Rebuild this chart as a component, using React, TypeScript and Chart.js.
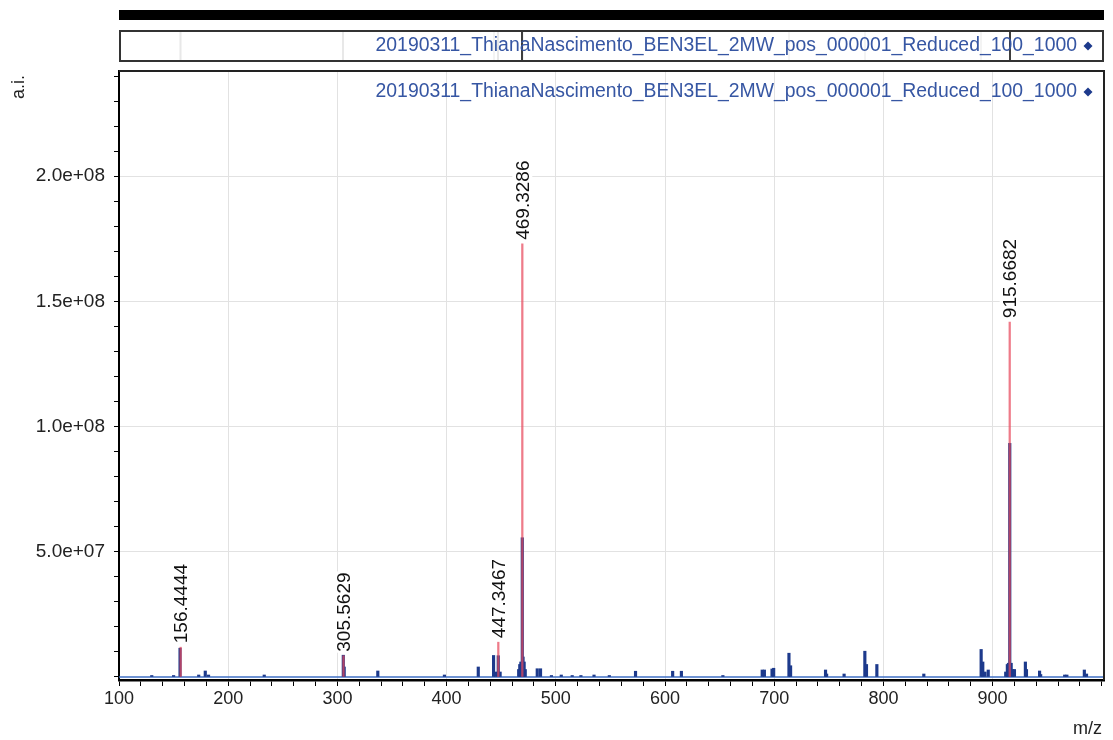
import React, { useEffect, useRef } from "react";
import { Chart, registerables } from "chart.js";

Chart.register(...registerables);

// ---------- data ----------
const seriesName = "20190311_ThianaNascimento_BEN3EL_2MW_pos_000001_Reduced_100_1000";

// profile spectrum (blue sticks): m/z and intensity
const profileMz = [
  130, 150, 155.9, 173, 179, 182, 233, 305.4, 306.2, 337, 398, 429, 443, 445, 447.3, 449,
  466, 467, 468, 469.3, 470, 471, 472, 483, 486, 496, 505, 515, 523, 535, 549, 573, 607, 615,
  653, 689, 691, 698, 699.5, 713.5, 715, 747, 748, 764, 783, 784.5, 794, 837, 889.5, 891,
  893, 896, 912, 913.5, 914.5, 915.7, 917, 918.5, 920, 930, 931, 943, 944, 966, 968, 984, 986,
];
const profileInt = [
  0.6e6, 0.6e6, 1.15e7, 0.8e6, 2.4e6, 0.8e6, 0.8e6, 8.7e6, 4e6, 2.4e6, 0.8e6, 4e6, 8.6e6, 2e6, 8.5e6, 2e6,
  3e6, 5e6, 6e6, 5.56e7, 8e6, 6e6, 3e6, 3.3e6, 3.3e6, 0.6e6, 0.8e6, 0.6e6, 0.6e6, 0.8e6, 0.6e6, 2.3e6, 2.3e6, 2.3e6,
  0.6e6, 2.8e6, 2.8e6, 3.2e6, 3.5e6, 9.5e6, 4.5e6, 2.8e6, 1.2e6, 1.2e6, 1.03e7, 5e6, 5e6, 1.2e6, 1.1e7, 6e6,
  2e6, 2.8e6, 2e6, 5e6, 5.5e6, 9.33e7, 5.5e6, 3e6, 3e6, 6e6, 3e6, 2.4e6, 1e6, 0.8e6, 0.8e6, 2.8e6, 1.2e6,
];

// centroid peaks (red lines) with labels
const peakMz = [156.4444, 305.5629, 447.3467, 469.3286, 915.6682];
const peakInt = [1.19e7, 8.5e6, 1.39e7, 1.73e8, 1.417e8];
const peakLabels = ["156.4444", "305.5629", "447.3467", "469.3286", "915.6682"];

// axes
const xMin = 100;
const xMax = 1002;
const xMinorStep = 20;
const xMajorTicks = [100, 200, 300, 400, 500, 600, 700, 800, 900];
const yMin = -1.2e6;
const yMax = 2.42e8;
const yMinorStep = 1e7;
const yMajorTicks = [5e7, 1e8, 1.5e8, 2e8];
const yTickLabels = ["5.0e+07", "1.0e+08", "1.5e+08", "2.0e+08"];

const FONT = "'Liberation Sans', Arial, sans-serif";
const BLUE_TEXT = "#3656a3";
const NAVY = "#1d3a8c";

const decorPlugin = {
  id: "decor",
  beforeDraw(chart: any) {
    const { ctx, chartArea } = chart;
    const x = chart.scales.x;
    ctx.save();
    ctx.fillStyle = "#fff";
    ctx.fillRect(0, 0, chart.width, chart.height);
    // black bar
    ctx.fillStyle = "#000";
    ctx.fillRect(chartArea.left, 10, chartArea.right - chartArea.left, 10);
    // overview box
    const bTop = 31, bH = 30;
    ctx.strokeStyle = "#333";
    ctx.lineWidth = 2;
    ctx.strokeRect(chartArea.left + 1, bTop, chartArea.right - chartArea.left - 2, bH);
    // overview lines
    const all = profileMz.map((m, i) => [m, profileInt[i]]).concat(peakMz.map((m, i) => [m, peakInt[i]]));
    all.forEach(([m, v]) => {
      if (v < 8e6) return;
      const a = Math.min(1, v / 8e7);
      const px = Math.round(x.getPixelForValue(m));
      ctx.strokeStyle = a > 0.5 ? "rgba(60,60,60,0.9)" : "rgba(120,120,120,0.12)";
      ctx.lineWidth = a > 0.5 ? 2 : 1.5;
      ctx.beginPath();
      ctx.moveTo(px, bTop + 1);
      ctx.lineTo(px, bTop + bH - 1);
      ctx.stroke();
    });
    ctx.restore();
  },
  afterDraw(chart: any) {
    const { ctx, chartArea } = chart;
    ctx.save();
    // frame top/right
    ctx.strokeStyle = "#222";
    ctx.lineWidth = 2;
    ctx.beginPath();
    ctx.moveTo(chartArea.left, chartArea.top);
    ctx.lineTo(chartArea.right, chartArea.top);
    ctx.lineTo(chartArea.right, chartArea.bottom);
    ctx.stroke();
    // legend texts
    const drawLegend = (cy: number) => {
      ctx.font = `19.4px ${FONT}`;
      ctx.fillStyle = BLUE_TEXT;
      ctx.textAlign = "right";
      ctx.textBaseline = "middle";
      ctx.fillText(seriesName, 1077, cy);
      const dx = 1088;
      ctx.fillStyle = NAVY;
      ctx.beginPath();
      ctx.moveTo(dx, cy - 4.5);
      ctx.lineTo(dx + 4.5, cy);
      ctx.lineTo(dx, cy + 4.5);
      ctx.lineTo(dx - 4.5, cy);
      ctx.closePath();
      ctx.fill();
    };
    drawLegend(46);
    drawLegend(92);
    // axis titles
    ctx.fillStyle = "#222";
    ctx.font = `18px ${FONT}`;
    ctx.save();
    ctx.translate(19, 87);
    ctx.rotate(-Math.PI / 2);
    ctx.textAlign = "center";
    ctx.textBaseline = "middle";
    ctx.fillText("a.i.", 0, 0);
    ctx.restore();
    ctx.textAlign = "right";
    ctx.textBaseline = "middle";
    ctx.fillText("m/z", 1102, 729);
    ctx.restore();
  },
  afterDatasetsDraw(chart: any) {
    const { ctx } = chart;
    const x = chart.scales.x;
    const y = chart.scales.y;
    ctx.save();
    ctx.font = `19px ${FONT}`;
    peakMz.forEach((m, i) => {
      const px = x.getPixelForValue(m);
      const py = y.getPixelForValue(peakInt[i]);
      const label = peakLabels[i];
      const w = ctx.measureText(label).width;
      ctx.save();
      ctx.translate(px, py - 4);
      ctx.rotate(-Math.PI / 2);
      ctx.fillStyle = "#fff";
      ctx.fillRect(-1, -10, w + 2, 20);
      ctx.fillStyle = "#111";
      ctx.textAlign = "left";
      ctx.textBaseline = "middle";
      ctx.fillText(label, 0, 1);
      ctx.restore();
    });
    ctx.restore();
  },
};

export default function App() {
  const ref = useRef<HTMLCanvasElement | null>(null);
  useEffect(() => {
    document.body.style.margin = "0";
    const canvas = ref.current!;
    const chart = new Chart(canvas, {
      type: "bar",
      data: {
        datasets: [
          {
            type: "bar",
            label: "centroid",
            data: peakMz.map((m, i) => ({ x: m, y: peakInt[i] })),
            backgroundColor: "rgba(232,72,92,0.72)",
            barThickness: 1.6,
            grouped: false,
            order: 0,
          } as any,
          {
            type: "bar",
            label: "profile",
            data: profileMz.map((m, i) => ({ x: m, y: profileInt[i] })),
            backgroundColor: NAVY,
            barThickness: 2.5,
            grouped: false,
            order: 1,
          } as any,
          {
            type: "line",
            label: "baseline",
            data: [
              { x: xMin, y: 0 },
              { x: xMax, y: 0 },
            ],
            borderColor: "#3f6fc4",
            borderWidth: 1.5,
            pointRadius: 0,
            order: 2,
          } as any,
        ],
      },
      options: {
        animation: false,
        responsive: false,
        maintainAspectRatio: false,
        layout: { padding: { left: 0, top: 71, right: 9, bottom: 0 } },
        plugins: { legend: { display: false }, tooltip: { enabled: false } },
        scales: {
          x: {
            type: "linear",
            min: xMin,
            max: xMax,
            offset: false,
            afterBuildTicks(scale: any) {
              const t = [];
              for (let v = xMin; v <= 1000; v += xMinorStep) t.push({ value: v });
              scale.ticks = t;
            },
            afterFit(scale: any) {
              scale.height = 60;
            },
            border: { color: "#000", width: 2.5 },
            grid: {
              offset: false,
              color: (c: any) => (c.tick && xMajorTicks.includes(c.tick.value) ? "#e2e2e2" : "rgba(0,0,0,0)"),
              tickColor: "#000",
              tickLength: 6,
              lineWidth: 1,
            },
            ticks: {
              autoSkip: false,
              maxRotation: 0,
              padding: 2,
              color: "#222",
              font: { family: FONT, size: 18 },
              callback: (v: any) => (xMajorTicks.includes(v) ? String(v) : ""),
            },
          },
          y: {
            type: "linear",
            min: yMin,
            max: yMax,
            afterBuildTicks(scale: any) {
              const t = [];
              for (let v = 0; v <= 2.4e8 + 1; v += yMinorStep) t.push({ value: v });
              scale.ticks = t;
            },
            afterFit(scale: any) {
              scale.width = 119;
            },
            border: { color: "#000", width: 2 },
            grid: {
              color: (c: any) => (c.tick && yMajorTicks.includes(c.tick.value) ? "#e2e2e2" : "rgba(0,0,0,0)"),
              tickColor: "#000",
              tickLength: 5,
              lineWidth: 1,
            },
            ticks: {
              autoSkip: false,
              padding: 9,
              color: "#222",
              font: { family: FONT, size: 19 },
              callback: (v: any) => {
                const i = yMajorTicks.indexOf(v);
                return i >= 0 ? yTickLabels[i] : "";
              },
            },
          },
        },
      },
      plugins: [decorPlugin],
    });
    return () => chart.destroy();
  }, []);
  return (
    <div style={{ position: "fixed", left: 0, top: 0, width: 1113, height: 740 }}>
      <canvas ref={ref} width={1113} height={740} style={{ width: 1113, height: 740 }} />
    </div>
  );
}
